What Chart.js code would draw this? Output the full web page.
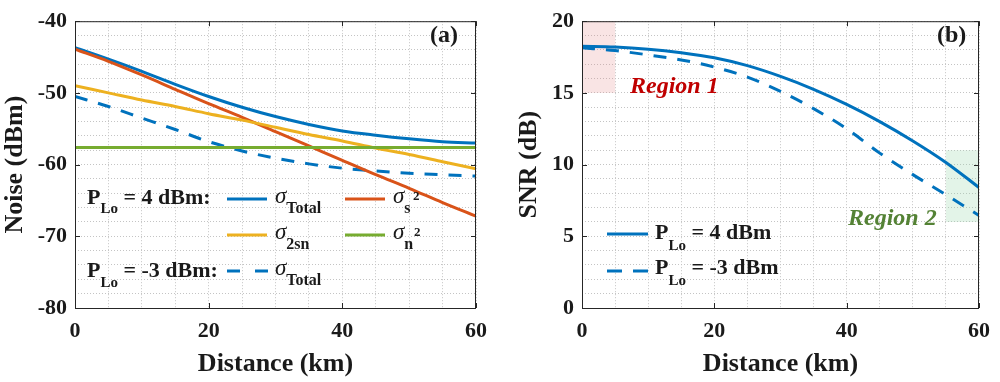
<!DOCTYPE html>
<html>
<head>
<meta charset="utf-8">
<script src="https://cdn.jsdelivr.net/npm/chart.js@4.4.0/dist/chart.umd.min.js"></script>
<style>
  html, body { margin: 0; padding: 0; background: #fff; }
  #wrap { position: relative; width: 1000px; height: 382px; }
  .panel { position: absolute; top: 0; width: 500px; height: 382px; }
</style>
</head>
<body>
<div id="wrap">
  <div class="panel" style="left:0"><canvas id="chart-a" width="500" height="382"></canvas></div>
  <div class="panel" style="left:500px"><canvas id="chart-b" width="500" height="382"></canvas></div>
</div>
<script>
// --- data ---
const distance = [0, 5, 10, 15, 20, 25, 30, 35, 40, 45, 50, 55, 60]; // km

// (a) noise in dBm
const noiseTotal4 = [-43.7, -45.3, -47.0, -48.8, -50.5, -52.0, -53.3, -54.4, -55.3, -55.9, -56.4, -56.8, -57.0];
const noiseSig    = [-43.9, -45.6, -47.5, -49.5, -51.5, -53.4, -55.4, -57.4, -59.4, -61.4, -63.3, -65.3, -67.2];
const noise2sn    = [-49.0, -50.0, -51.0, -51.9, -52.9, -53.8, -54.8, -55.8, -56.7, -57.7, -58.6, -59.6, -60.6];
const noiseN      = [-57.6, -57.6, -57.6, -57.6, -57.6, -57.6, -57.6, -57.6, -57.6, -57.6, -57.6, -57.6, -57.6];
const noiseTotalM3 = [-50.5, -51.9, -53.5, -55.1, -56.8, -58.1, -59.1, -59.9, -60.5, -60.9, -61.2, -61.4, -61.6];

// (b) SNR in dB
const snr4  = [18.25, 18.2, 18.05, 17.8, 17.45, 16.9, 16.15, 15.25, 14.2, 13.0, 11.65, 10.15, 8.4];
const snrM3 = [18.15, 17.95, 17.65, 17.3, 16.8, 16.1, 15.1, 13.9, 12.5, 10.8, 9.3, 7.9, 6.45];

// axis ticks
const xMajor = [0, 20, 40, 60];
const yMajorA = [-80, -70, -60, -50, -40];
const yMajorB = [0, 5, 10, 15, 20];

// shaded regions in (b): [x0, x1, y0, y1]
const region1 = [0, 5, 15, 20];
const region2 = [55, 60, 6, 11];

// --- styles ---
const BLUE = '#0072BD', RED = '#D95319', YELLOW = '#EDB120', GREEN = '#77AC30';
const INK = '#1a1a1a';
const GRID = '#c4c4c4';
const SERIF = '"Liberation Serif", "Times New Roman", serif';
const B22 = 'bold 22px ' + SERIF;
const B16 = 'bold 16px ' + SERIF;
const B15 = 'bold 15px ' + SERIF;
const B13 = 'bold 13px ' + SERIF;
const I22 = 'italic 23px ' + SERIF;
const DASH = [13, 11];

const pts = arr => distance.map((d, i) => ({ x: d, y: arr[i] }));

function line(data, color, dashed) {
  return {
    data: pts(data),
    borderColor: color,
    borderWidth: 3,
    borderDash: dashed ? DASH : [],
    pointRadius: 0,
    cubicInterpolationMode: 'monotone',
    fill: false
  };
}

// text with sub/superscripts: [text, font, dy, xAbs]
function rich(ctx, x, y, parts) {
  parts.forEach(p => {
    if (p[3] !== undefined) x = p[3];
    ctx.font = p[1];
    ctx.fillText(p[0], x, y + (p[2] || 0));
    x += ctx.measureText(p[0]).width;
  });
}

function sample(ctx, x0, x1, y, color, dash) {
  ctx.save();
  ctx.strokeStyle = color;
  ctx.lineWidth = 3;
  ctx.setLineDash(dash || []);
  ctx.beginPath();
  ctx.moveTo(x0, y);
  ctx.lineTo(x1, y);
  ctx.stroke();
  ctx.restore();
}

function scaleOpts(min, max, step, majors, title, width, titlePad, pos) {
  const horiz = pos === 'x';
  return {
    type: 'linear',
    min, max,
    ticks: {
      stepSize: step,
      autoSkip: false,
      maxRotation: 0,
      padding: horiz ? 10 : 8,
      color: INK,
      font: { family: SERIF, size: 22, weight: 'bold' },
      callback: v => majors.includes(Math.round(v)) && Math.abs(v - Math.round(v)) < 1e-6 ? String(Math.round(v)) : ''
    },
    grid: { color: GRID, lineWidth: 1, drawTicks: false },
    border: { display: false, dash: [1, 2] },
    title: {
      display: true, text: title, color: INK,
      font: { family: SERIF, size: 26, weight: 'bold' },
      padding: titlePad
    },
    afterFit: s => { if (horiz) s.height = 74; else s.width = width; }
  };
}

// frame, inward ticks and annotations
function framePlugin(yMajors, drawText, regions) {
  return {
    id: 'frame',
    beforeDatasetsDraw(chart) {
      const { ctx, scales: { x, y } } = chart;
      (regions || []).forEach(([x0, x1, y0, y1, c]) => {
        ctx.fillStyle = c;
        const px0 = x.getPixelForValue(x0), px1 = x.getPixelForValue(x1);
        const py0 = y.getPixelForValue(y1), py1 = y.getPixelForValue(y0);
        ctx.fillRect(px0, py0, px1 - px0, py1 - py0);
      });
    },
    afterDatasetsDraw(chart) {
      const { ctx, chartArea: a, scales: { x, y } } = chart;
      ctx.save();
      ctx.strokeStyle = '#262626';
      ctx.lineWidth = 1;
      ctx.strokeRect(a.left + 0.5, a.top + 0.5, a.right - a.left - 1, a.bottom - a.top);
      ctx.beginPath();
      xMajor.forEach(v => {
        const px = Math.round(x.getPixelForValue(v)) + 0.5;
        ctx.moveTo(px, a.bottom); ctx.lineTo(px, a.bottom - 5);
        ctx.moveTo(px, a.top); ctx.lineTo(px, a.top + 5);
      });
      yMajors.forEach(v => {
        const py = Math.round(y.getPixelForValue(v)) + 0.5;
        ctx.moveTo(a.left, py); ctx.lineTo(a.left + 5, py);
        ctx.moveTo(a.right, py); ctx.lineTo(a.right - 5, py);
      });
      ctx.stroke();
      ctx.fillStyle = INK;
      ctx.textBaseline = 'alphabetic';
      ctx.textAlign = 'left';
      drawText(ctx);
      ctx.restore();
    }
  };
}

// --- (a) Noise ---
new Chart(document.getElementById('chart-a'), {
  type: 'line',
  data: {
    datasets: [
      line(noiseN, GREEN),
      line(noise2sn, YELLOW),
      line(noiseSig, RED),
      line(noiseTotalM3, BLUE, true),
      line(noiseTotal4, BLUE)
    ]
  },
  options: {
    responsive: false,
    animation: false,
    devicePixelRatio: 1,
    layout: { padding: { top: 10, right: 24, left: 0, bottom: 0 } },
    plugins: { legend: { display: false }, tooltip: { enabled: false } },
    scales: {
      x: scaleOpts(0, 60, 5, xMajor, 'Distance (km)', 0, { top: 0, bottom: 2 }, 'x'),
      y: scaleOpts(-80, -40, 2, yMajorA, 'Noise (dBm)', 75, { top: 0, bottom: 0 }, 'y')
    }
  },
  plugins: [framePlugin(yMajorA, ctx => {
    ctx.font = 'bold 24px ' + SERIF;
    ctx.fillText('(a)', 430, 42);

    rich(ctx, 87, 204, [['P', B22], ['Lo', B15, 9], [' = 4 dBm:', B22]]);
    sample(ctx, 227, 267, 199, BLUE);
    rich(ctx, 275, 203, [['σ', I22], ['Total', B16, 10]]);
    sample(ctx, 345, 385, 199, RED);
    rich(ctx, 393, 203, [['σ', I22], ['s', B16, 10], ['2', B13, -3, 413]]);

    sample(ctx, 227, 267, 235, YELLOW);
    rich(ctx, 275, 239, [['σ', I22], ['2sn', B16, 10]]);
    sample(ctx, 345, 385, 235, GREEN);
    rich(ctx, 393, 239, [['σ', I22], ['n', B16, 10], ['2', B13, -3, 414]]);

    rich(ctx, 87, 277, [['P', B22], ['Lo', B15, 10], [' = -3 dBm:', B22]]);
    sample(ctx, 227, 268, 271, BLUE, [13, 15]);
    rich(ctx, 275, 275, [['σ', I22], ['Total', B16, 10]]);
  })]
});

// --- (b) SNR ---
new Chart(document.getElementById('chart-b'), {
  type: 'line',
  data: {
    datasets: [
      line(snrM3, BLUE, true),
      line(snr4, BLUE)
    ]
  },
  options: {
    responsive: false,
    animation: false,
    devicePixelRatio: 1,
    layout: { padding: { top: 10, right: 17, left: 0, bottom: 0 } },
    plugins: { legend: { display: false }, tooltip: { enabled: false } },
    scales: {
      x: scaleOpts(0, 60, 5, xMajor, 'Distance (km)', 0, { top: 0, bottom: 2 }, 'x'),
      y: scaleOpts(0, 20, 1, yMajorB, 'SNR (dB)', 82, { top: 14, bottom: 0 }, 'y')
    }
  },
  plugins: [framePlugin(yMajorB, ctx => {
    ctx.font = 'bold 24px ' + SERIF;
    ctx.fillText('(b)', 437, 42);

    ctx.font = 'bold italic 24px ' + SERIF;
    ctx.fillStyle = '#C00000';
    ctx.fillText('Region 1', 130, 93);
    ctx.fillStyle = '#548235';
    ctx.fillText('Region 2', 348, 225);

    ctx.fillStyle = INK;
    sample(ctx, 107, 148, 234, BLUE);
    rich(ctx, 155, 239, [['P', B22], ['Lo', B15, 11], [' = 4 dBm', B22]]);
    sample(ctx, 107, 148, 271, BLUE, [15, 11]);
    rich(ctx, 155, 274, [['P', B22], ['Lo', B15, 11], [' = -3 dBm', B22]]);
  }, [
    region1.concat('rgba(226, 130, 130, 0.22)'),
    region2.concat('rgba(150, 215, 170, 0.27)')
  ])]
});
</script>
</body>
</html>
